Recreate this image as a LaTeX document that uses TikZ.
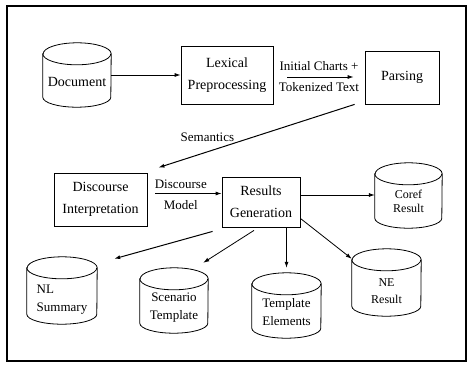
\documentclass[tikz,border=0pt]{standalone}
\usepackage{fontspec}
\setmainfont{Liberation Serif}
\usetikzlibrary{calc,arrows.meta}
\tikzset{
 box/.style={draw, line width=0.8pt, align=center, font=\fontsize{14}{22}\selectfont, inner sep=0pt},
 cylbox/.style={inner sep=0pt, draw=none},
 cyltext/.style={align=center, font=\fontsize{13}{18}\selectfont, inner sep=0pt},
 lbl/.style={font=\fontsize{13}{15}\selectfont, inner sep=1pt},
 arr/.style={-{Latex[length=6pt,width=4pt]}, line width=0.8pt},
 frame/.style={line width=1.3pt},
}
\newcommand\mycyl[8]{% name, x, y, w, h, text offset, extra style, text
 \node[cylbox, minimum width=#4pt, minimum height=#5pt] (#1) at (#2,#3) {};
 \node[cyltext, #7] (#1-t) at ($(#1)+(0,-#6pt)$) {#8};
 \draw[line width=0.8pt] ($(#1.north west)+(0,-11pt)$) -- ($(#1.south west)+(0,10pt)$)
   arc (180:360:#4pt/2 and 10pt) -- ($(#1.north east)+(0,-11pt)$)
   arc (0:180:#4pt/2 and 11pt) -- cycle;
 \draw[line width=0.8pt] ($(#1.north west)+(0,-11pt)$) arc (180:360:#4pt/2 and 11pt);
}
\begin{document}
\begin{tikzpicture}[x=1pt,y=-1pt]
\useasboundingbox (0,0) rectangle (468,369);
\draw[frame] (7,6) rectangle (466,361);

% nodes
\mycyl{doc}{77}{75}{68}{64}{7}{font=\fontsize{14}{18}\selectfont}{Document}
\node[box, minimum width=92pt, minimum height=58pt] (lex) at (227,75) {Lexical\\Preprocessing};
\node[box, minimum width=74pt, minimum height=53pt] (parse) at (402,77.5) {Parsing};
\node[box, minimum width=93pt, minimum height=53pt] (di) at (100.5,199.5) {Discourse\\Interpretation};
\node[box, minimum width=78pt, minimum height=50pt] (rg) at (261,202) {Results\\Generation};
\mycyl{coref}{408.5}{195.5}{67}{65}{6}{font=\fontsize{12}{14}\selectfont}{Coref\\Result}
\mycyl{ne}{386.5}{282.5}{69}{67}{9}{font=\fontsize{12}{17}\selectfont}{NE\\Result}
\mycyl{te}{286.5}{305.5}{69}{65}{6.5}{}{Template\\Elements}
\mycyl{st}{174}{300.5}{68}{65}{7}{}{Scenario\\Template}
\mycyl{nl}{62}{290.5}{70}{67}{9.5}{align=left}{NL\\Summary}

% connectors
\draw[arr] (doc.east) -- (lex.west);
\draw[arr, shorten <=14pt, shorten >=11pt] ([yshift=-2pt]lex.east) -- ([yshift=-2pt]lex.east -| parse.west)
  node[lbl, midway, above=5pt] (lab1) {Initial Charts +}
  node[lbl, midway, below=4pt] (lab2) {Tokenized Text};
\coordinate (s1) at ($(parse.south west)+(-10pt,0)$);
\coordinate (s2) at ($(di.north east)+(11pt,5pt)$);
\draw[arr, line width=1pt] (s1) -- (s2)
  node[lbl, pos=0.75, yshift=15pt] (lab3) {Semantics};
\draw[arr, shorten <=8pt] ([yshift=6pt]di.east) -- ([yshift=6pt]di.east -| rg.west)
  node[lbl, pos=0.45, above=3pt] (lab4) {Discourse}
  node[lbl, pos=0.45, below=6pt] (lab5) {Model};
\draw[arr] ([yshift=7pt]rg.east) -- ([yshift=7pt]rg.east -| coref.west);
\draw[arr] ($(rg.south east)+(0,9pt)$) -- ($(ne.north west)+(0,-10pt)$);
\draw[arr, shorten >=5pt] (te.north |- rg.south) -- (te.north);
\draw[arr] ($(rg.south)+(-7pt,-3pt)$) -- ($(st.north east)+(-5pt,5pt)$);
\draw[arr, line width=1pt] ($(rg.south west)+(-9pt,-4pt)$) -- ($(nl.north east)+(17pt,-2pt)$);
\end{tikzpicture}
\end{document}
